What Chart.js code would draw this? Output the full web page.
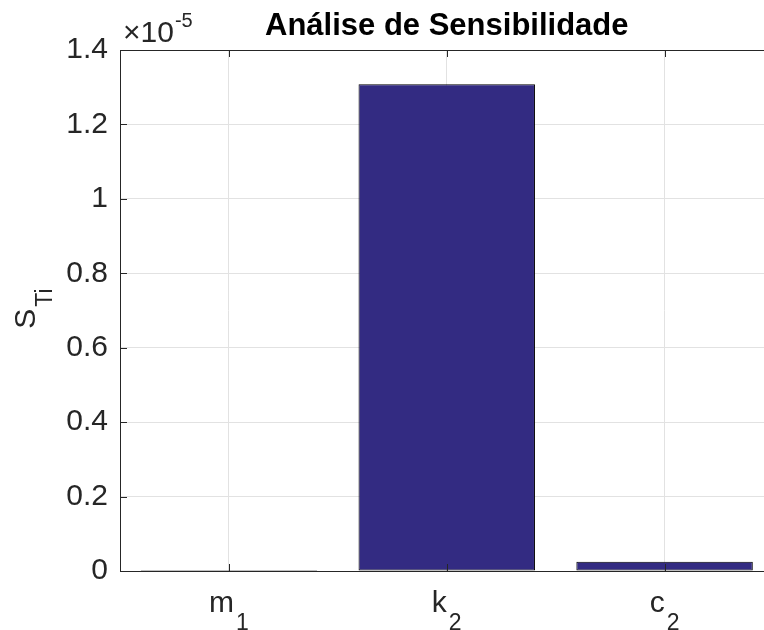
<!DOCTYPE html>
<html>
<head>
<meta charset="utf-8">
<script src="https://cdn.jsdelivr.net/npm/chart.js@4"></script>
<style>
  html, body { margin: 0; padding: 0; overflow: hidden; background: #fff; }
  canvas { display: block; }
</style>
</head>
<body>
<canvas id="c" width="800" height="630"></canvas>
<script>
// Total-order sensitivity indices, in units of 10^-5
const categories = ['m_1', 'k_2', 'c_2'];
const sti = [0.003, 1.308, 0.025];
const yTicks = [0, 0.2, 0.4, 0.6, 0.8, 1, 1.2, 1.4];
const exponent = '-5';
const titleText = 'Análise de Sensibilidade';
const yLabel = 'S_Ti';

const FONT = '"Liberation Sans", Arial, Helvetica, sans-serif';
const TEXT = '#262626';
const GRID = '#e2e2e2';

// Draw "base_sub" text with a lowered, smaller subscript
function drawSub(ctx, str, x, y, size, subSize, drop, align) {
  const [base, sub] = str.split('_');
  ctx.font = size + 'px ' + FONT;
  const wb = ctx.measureText(base).width;
  ctx.font = subSize + 'px ' + FONT;
  const ws = ctx.measureText(sub || '').width;
  const total = wb + ws + (sub ? 2 : 0);
  const x0 = align === 'center' ? x - total / 2 : x;
  ctx.textAlign = 'left';
  ctx.textBaseline = 'alphabetic';
  ctx.font = size + 'px ' + FONT;
  ctx.fillText(base, x0, y);
  if (sub) {
    ctx.font = subSize + 'px ' + FONT;
    ctx.fillText(sub, x0 + wb + 2, y + drop);
  }
}

const decor = {
  id: 'decor',
  afterDraw(chart) {
    const ctx = chart.ctx;
    const a = chart.chartArea;
    const xs = chart.scales.x, ys = chart.scales.y;
    ctx.save();
    ctx.fillStyle = TEXT;
    ctx.strokeStyle = TEXT;
    ctx.lineWidth = 1;

    // axes box
    ctx.strokeRect(Math.round(a.left) + 0.5, Math.round(a.top) + 0.5,
                   Math.round(a.right - a.left), Math.round(a.bottom - a.top));

    // inward tick marks
    ctx.beginPath();
    yTicks.forEach(v => {
      const y = Math.round(ys.getPixelForValue(v)) + 0.5;
      ctx.moveTo(a.left, y); ctx.lineTo(a.left + 7, y);
      ctx.moveTo(a.right, y); ctx.lineTo(a.right - 7, y);
    });
    categories.forEach((c, i) => {
      const x = Math.round(xs.getPixelForValue(i)) + 0.5;
      ctx.moveTo(x, a.bottom); ctx.lineTo(x, a.bottom - 7);
      ctx.moveTo(x, a.top); ctx.lineTo(x, a.top + 7);
    });
    ctx.stroke();

    // x tick labels with subscripts
    categories.forEach((c, i) => {
      const x = xs.getPixelForValue(i);
      drawSub(ctx, c, x, a.bottom + 41, 30, 23, 18, 'center');
    });

    // y axis label, rotated
    ctx.save();
    ctx.translate(35, (a.top + a.bottom) / 2 - 2);
    ctx.rotate(-Math.PI / 2);
    drawSub(ctx, yLabel, 0, 0, 30, 23, 17, 'center');
    ctx.restore();

    // exponent label
    ctx.font = '30px ' + FONT;
    ctx.textAlign = 'left';
    ctx.textBaseline = 'alphabetic';
    ctx.fillText('\u00d710', a.left + 3, 42);
    const w = ctx.measureText('\u00d710').width;
    ctx.font = '20px ' + FONT;
    ctx.fillText(exponent, a.left + 4 + w, 27);

    // title
    ctx.font = 'bold 31px ' + FONT;
    ctx.textAlign = 'center';
    ctx.fillStyle = '#000';
    ctx.fillText(titleText, (a.left + a.right) / 2, 35);
    ctx.restore();
  }
};

new Chart(document.getElementById('c'), {
  type: 'bar',
  data: {
    labels: categories,
    datasets: [{
      data: sti,
      backgroundColor: '#332b82',
      borderColor: '#000000',
      borderWidth: 1,
      borderSkipped: false,
      barPercentage: 0.81,
      categoryPercentage: 1.0
    }]
  },
  options: {
    responsive: false,
    animation: false,
    devicePixelRatio: 1,
    layout: { padding: { top: 50, left: 0, right: 26.5, bottom: 0 } },
    plugins: { legend: { display: false }, tooltip: { enabled: false }, title: { display: false } },
    scales: {
      x: {
        type: 'category',
        offset: true,
        grid: { offset: false, color: GRID, drawTicks: false },
        border: { display: false },
        ticks: { display: false },
        afterFit(s) { s.height = 59; }
      },
      y: {
        min: 0, max: 1.4,
        afterBuildTicks(s) { s.ticks = yTicks.map(v => ({ value: v })); },
        grid: { color: GRID, drawTicks: false },
        border: { display: false },
        ticks: {
          padding: 12,
          color: TEXT,
          font: { family: FONT, size: 30 },
          callback: v => String(Number(v.toFixed(1)))
        },
        afterFit(s) { s.width = 120; }
      }
    }
  },
  plugins: [decor]
});
</script>
</body>
</html>
